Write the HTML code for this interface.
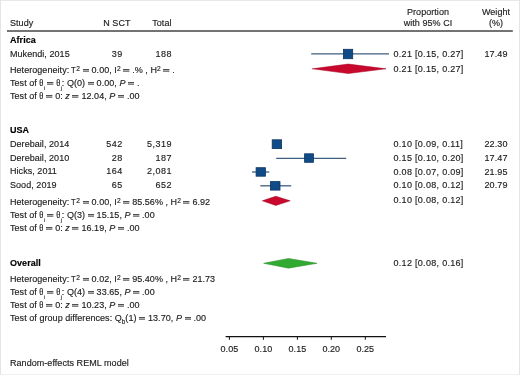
<!DOCTYPE html>
<html><head><meta charset="utf-8"><style>
html,body{margin:0;padding:0;background:#fff;}
#c{position:relative;width:520px;height:375px;overflow:hidden;background:#fff;will-change:transform;}
#c > svg{position:absolute;left:0;top:0;}
.t{position:absolute;font-family:"Liberation Sans",sans-serif;font-size:9.0px;line-height:9.0px;color:#222;white-space:pre;letter-spacing:0.05px;-webkit-text-stroke:0.15px #222;}
.t.b{font-weight:bold;color:#000;-webkit-text-stroke:0.15px #000;}
.t i{font-style:italic;}
.t.ci{letter-spacing:0.3px;}
.t.num{letter-spacing:0.5px;}
.t.w{letter-spacing:0.15px;}
.sup{font-size:6.6px;vertical-align:2.0px;line-height:0;}
.tau{display:inline-block;font-size:9.6px;line-height:0;transform:scaleX(0.8);transform-origin:0 0;margin-left:-1.0px;margin-right:-0.4px;}
.sub{font-size:5px;vertical-align:-3.6px;line-height:0;}
.subb{font-size:6.3px;vertical-align:-2.9px;line-height:0;}
.th{font-family:"Liberation Serif",serif;font-size:9.6px;margin-left:-0.4px;display:inline-block;line-height:0;transform:scaleX(0.88);}
.eq{display:inline-block;vertical-align:1px;fill:#333;}
</style></head><body>
<div id="c">
<svg width="520" height="375" viewBox="0 0 520 375">
<rect x="0" y="0" width="520" height="375" fill="#fff"/>
<rect x="0" y="0" width="520" height="1" fill="#e8e8e8"/>
<rect x="0" y="374" width="520" height="1" fill="#efefef"/>
<rect x="0" y="0" width="1" height="375" fill="#e4e4e4"/>
<rect x="519" y="0" width="1" height="375" fill="#e4e4e4"/>
<line x1="7" y1="31.1" x2="512.8" y2="31.1" stroke="#444" stroke-width="1.5"/>
<line x1="311.2" y1="53.9" x2="389" y2="53.9" stroke="#405f80" stroke-width="1.3"/>
<rect x="343.50" y="49.30" width="9.20" height="9.40" fill="#114b87" stroke="#0a3461" stroke-width="0.8"/>
<polygon points="312.2,68.8 348.3,64.05 386.0,68.8 348.3,73.55" fill="#c8092d" stroke="#a3001f" stroke-width="0.5" stroke-linejoin="miter" stroke-miterlimit="20"/>
<line x1="276.2" y1="158.3" x2="346.2" y2="158.3" stroke="#405f80" stroke-width="1.3"/>
<line x1="252" y1="172" x2="269.3" y2="172" stroke="#405f80" stroke-width="1.3"/>
<line x1="260.3" y1="185.8" x2="291.2" y2="185.8" stroke="#405f80" stroke-width="1.3"/>
<rect x="272.20" y="139.80" width="9.40" height="8.80" fill="#114b87" stroke="#0a3461" stroke-width="0.8"/>
<rect x="304.60" y="153.80" width="8.80" height="8.50" fill="#114b87" stroke="#0a3461" stroke-width="0.8"/>
<rect x="256.10" y="167.70" width="9.30" height="8.50" fill="#114b87" stroke="#0a3461" stroke-width="0.8"/>
<rect x="270.40" y="181.60" width="9.60" height="8.50" fill="#114b87" stroke="#0a3461" stroke-width="0.8"/>
<polygon points="262.3,200.8 275.8,196.25 290.2,200.8 275.8,205.45" fill="#c8092d" stroke="#a3001f" stroke-width="0.5" stroke-linejoin="miter" stroke-miterlimit="20"/>
<polygon points="263.6,263.3 288.5,258.45 317.09999999999997,263.3 288.5,268.15" fill="#32aa32" stroke="#258a25" stroke-width="0.5" stroke-linejoin="miter" stroke-miterlimit="20"/>
<line x1="225.6" y1="336.7" x2="386" y2="336.7" stroke="#111" stroke-width="1.3"/>
<line x1="229.4" y1="336.7" x2="229.4" y2="339.8" stroke="#111" stroke-width="1"/>
<line x1="263.4" y1="336.7" x2="263.4" y2="339.8" stroke="#111" stroke-width="1"/>
<line x1="297.4" y1="336.7" x2="297.4" y2="339.8" stroke="#111" stroke-width="1"/>
<line x1="331.3" y1="336.7" x2="331.3" y2="339.8" stroke="#111" stroke-width="1"/>
<line x1="365.3" y1="336.7" x2="365.3" y2="339.8" stroke="#111" stroke-width="1"/>
</svg>
<div class="t" style="left:428.00px;top:8.00px;transform:translateX(-50%)">Proportion</div>
<div class="t" style="left:428.00px;top:19.00px;transform:translateX(-50%)">with 95% CI</div>
<div class="t" style="left:496.00px;top:8.00px;transform:translateX(-50%)">Weight</div>
<div class="t" style="left:496.00px;top:19.00px;transform:translateX(-50%)">(%)</div>
<div class="t" style="left:10.00px;top:19.00px">Study</div>
<div class="t" style="right:389.50px;top:19.00px">N SCT</div>
<div class="t" style="right:348.50px;top:19.00px">Total</div>
<div class="t b" style="left:10.00px;top:36.00px">Africa</div>
<div class="t" style="left:10.00px;top:50.00px">Mukendi, 2015</div>
<div class="t num" style="right:397.30px;top:50.00px">39</div>
<div class="t num" style="right:347.90px;top:50.00px">188</div>
<div class="t ci" style="left:393.50px;top:50.00px">0.21 [0.15, 0.27]</div>
<div class="t w" style="right:12.35px;top:50.00px">17.49</div>
<div class="t" style="left:10.00px;top:66.00px">Heterogeneity: <span class="tau">T</span><span class="sup">2</span> <svg class="eq" width="6.4" height="4" viewBox="0 0 6.4 4"><rect x="0" y="1.0" width="6.4" height="0.85"/><rect x="0" y="2.6" width="6.4" height="1.0"/></svg> 0.00, I<span class="sup">2</span> <svg class="eq" width="6.4" height="4" viewBox="0 0 6.4 4"><rect x="0" y="1.0" width="6.4" height="0.85"/><rect x="0" y="2.6" width="6.4" height="1.0"/></svg> .% , H<span class="sup">2</span> <svg class="eq" width="6.4" height="4" viewBox="0 0 6.4 4"><rect x="0" y="1.0" width="6.4" height="0.85"/><rect x="0" y="2.6" width="6.4" height="1.0"/></svg> .</div>
<div class="t ci" style="left:393.50px;top:65.00px">0.21 [0.15, 0.27]</div>
<div class="t" style="left:10.00px;top:79.00px">Test of <span class="th">θ</span><span class="sub">i</span> <svg class="eq" width="6.4" height="4" viewBox="0 0 6.4 4"><rect x="0" y="1.0" width="6.4" height="0.85"/><rect x="0" y="2.6" width="6.4" height="1.0"/></svg> <span class="th">θ</span><span class="sub">j</span>: Q(0) <svg class="eq" width="6.4" height="4" viewBox="0 0 6.4 4"><rect x="0" y="1.0" width="6.4" height="0.85"/><rect x="0" y="2.6" width="6.4" height="1.0"/></svg> 0.00, <i>P</i> <svg class="eq" width="6.4" height="4" viewBox="0 0 6.4 4"><rect x="0" y="1.0" width="6.4" height="0.85"/><rect x="0" y="2.6" width="6.4" height="1.0"/></svg> .</div>
<div class="t" style="left:10.00px;top:92.00px">Test of <span class="th">θ</span> <svg class="eq" width="6.4" height="4" viewBox="0 0 6.4 4"><rect x="0" y="1.0" width="6.4" height="0.85"/><rect x="0" y="2.6" width="6.4" height="1.0"/></svg> 0: <i>z</i> <svg class="eq" width="6.4" height="4" viewBox="0 0 6.4 4"><rect x="0" y="1.0" width="6.4" height="0.85"/><rect x="0" y="2.6" width="6.4" height="1.0"/></svg> 12.04, <i>P</i> <svg class="eq" width="6.4" height="4" viewBox="0 0 6.4 4"><rect x="0" y="1.0" width="6.4" height="0.85"/><rect x="0" y="2.6" width="6.4" height="1.0"/></svg> .00</div>
<div class="t b" style="left:10.00px;top:126.00px">USA</div>
<div class="t" style="left:10.00px;top:140.00px">Derebail, 2014</div>
<div class="t num" style="right:397.30px;top:140.00px">542</div>
<div class="t num" style="right:347.90px;top:140.00px">5,319</div>
<div class="t ci" style="left:393.50px;top:140.00px">0.10 [0.09, 0.11]</div>
<div class="t w" style="right:12.35px;top:140.00px">22.30</div>
<div class="t" style="left:10.00px;top:154.00px">Derebail, 2010</div>
<div class="t num" style="right:397.30px;top:154.00px">28</div>
<div class="t num" style="right:347.90px;top:154.00px">187</div>
<div class="t ci" style="left:393.50px;top:154.00px">0.15 [0.10, 0.20]</div>
<div class="t w" style="right:12.35px;top:154.00px">17.47</div>
<div class="t" style="left:10.00px;top:167.00px">Hicks, 2011</div>
<div class="t num" style="right:397.30px;top:167.00px">164</div>
<div class="t num" style="right:347.90px;top:167.00px">2,081</div>
<div class="t ci" style="left:393.50px;top:168.00px">0.08 [0.07, 0.09]</div>
<div class="t w" style="right:12.35px;top:168.00px">21.95</div>
<div class="t" style="left:10.00px;top:181.00px">Sood, 2019</div>
<div class="t num" style="right:397.30px;top:181.00px">65</div>
<div class="t num" style="right:347.90px;top:181.00px">652</div>
<div class="t ci" style="left:393.50px;top:181.00px">0.10 [0.08, 0.12]</div>
<div class="t w" style="right:12.35px;top:181.00px">20.79</div>
<div class="t" style="left:10.00px;top:198.00px">Heterogeneity: <span class="tau">T</span><span class="sup">2</span> <svg class="eq" width="6.4" height="4" viewBox="0 0 6.4 4"><rect x="0" y="1.0" width="6.4" height="0.85"/><rect x="0" y="2.6" width="6.4" height="1.0"/></svg> 0.00, I<span class="sup">2</span> <svg class="eq" width="6.4" height="4" viewBox="0 0 6.4 4"><rect x="0" y="1.0" width="6.4" height="0.85"/><rect x="0" y="2.6" width="6.4" height="1.0"/></svg> 85.56% , H<span class="sup">2</span> <svg class="eq" width="6.4" height="4" viewBox="0 0 6.4 4"><rect x="0" y="1.0" width="6.4" height="0.85"/><rect x="0" y="2.6" width="6.4" height="1.0"/></svg> 6.92</div>
<div class="t ci" style="left:393.50px;top:196.00px">0.10 [0.08, 0.12]</div>
<div class="t" style="left:10.00px;top:211.00px">Test of <span class="th">θ</span><span class="sub">i</span> <svg class="eq" width="6.4" height="4" viewBox="0 0 6.4 4"><rect x="0" y="1.0" width="6.4" height="0.85"/><rect x="0" y="2.6" width="6.4" height="1.0"/></svg> <span class="th">θ</span><span class="sub">j</span>: Q(3) <svg class="eq" width="6.4" height="4" viewBox="0 0 6.4 4"><rect x="0" y="1.0" width="6.4" height="0.85"/><rect x="0" y="2.6" width="6.4" height="1.0"/></svg> 15.15, <i>P</i> <svg class="eq" width="6.4" height="4" viewBox="0 0 6.4 4"><rect x="0" y="1.0" width="6.4" height="0.85"/><rect x="0" y="2.6" width="6.4" height="1.0"/></svg> .00</div>
<div class="t" style="left:10.00px;top:224.00px">Test of <span class="th">θ</span> <svg class="eq" width="6.4" height="4" viewBox="0 0 6.4 4"><rect x="0" y="1.0" width="6.4" height="0.85"/><rect x="0" y="2.6" width="6.4" height="1.0"/></svg> 0: <i>z</i> <svg class="eq" width="6.4" height="4" viewBox="0 0 6.4 4"><rect x="0" y="1.0" width="6.4" height="0.85"/><rect x="0" y="2.6" width="6.4" height="1.0"/></svg> 16.19, <i>P</i> <svg class="eq" width="6.4" height="4" viewBox="0 0 6.4 4"><rect x="0" y="1.0" width="6.4" height="0.85"/><rect x="0" y="2.6" width="6.4" height="1.0"/></svg> .00</div>
<div class="t b" style="left:10.00px;top:259.00px">Overall</div>
<div class="t ci" style="left:393.50px;top:259.00px">0.12 [0.08, 0.16]</div>
<div class="t" style="left:10.00px;top:275.00px">Heterogeneity: <span class="tau">T</span><span class="sup">2</span> <svg class="eq" width="6.4" height="4" viewBox="0 0 6.4 4"><rect x="0" y="1.0" width="6.4" height="0.85"/><rect x="0" y="2.6" width="6.4" height="1.0"/></svg> 0.02, I<span class="sup">2</span> <svg class="eq" width="6.4" height="4" viewBox="0 0 6.4 4"><rect x="0" y="1.0" width="6.4" height="0.85"/><rect x="0" y="2.6" width="6.4" height="1.0"/></svg> 95.40% , H<span class="sup">2</span> <svg class="eq" width="6.4" height="4" viewBox="0 0 6.4 4"><rect x="0" y="1.0" width="6.4" height="0.85"/><rect x="0" y="2.6" width="6.4" height="1.0"/></svg> 21.73</div>
<div class="t" style="left:10.00px;top:288.00px">Test of <span class="th">θ</span><span class="sub">i</span> <svg class="eq" width="6.4" height="4" viewBox="0 0 6.4 4"><rect x="0" y="1.0" width="6.4" height="0.85"/><rect x="0" y="2.6" width="6.4" height="1.0"/></svg> <span class="th">θ</span><span class="sub">j</span>: Q(4) <svg class="eq" width="6.4" height="4" viewBox="0 0 6.4 4"><rect x="0" y="1.0" width="6.4" height="0.85"/><rect x="0" y="2.6" width="6.4" height="1.0"/></svg> 33.65, <i>P</i> <svg class="eq" width="6.4" height="4" viewBox="0 0 6.4 4"><rect x="0" y="1.0" width="6.4" height="0.85"/><rect x="0" y="2.6" width="6.4" height="1.0"/></svg> .00</div>
<div class="t" style="left:10.00px;top:301.00px">Test of <span class="th">θ</span> <svg class="eq" width="6.4" height="4" viewBox="0 0 6.4 4"><rect x="0" y="1.0" width="6.4" height="0.85"/><rect x="0" y="2.6" width="6.4" height="1.0"/></svg> 0: <i>z</i> <svg class="eq" width="6.4" height="4" viewBox="0 0 6.4 4"><rect x="0" y="1.0" width="6.4" height="0.85"/><rect x="0" y="2.6" width="6.4" height="1.0"/></svg> 10.23, <i>P</i> <svg class="eq" width="6.4" height="4" viewBox="0 0 6.4 4"><rect x="0" y="1.0" width="6.4" height="0.85"/><rect x="0" y="2.6" width="6.4" height="1.0"/></svg> .00</div>
<div class="t" style="left:10.00px;top:314.00px">Test of group differences: Q<span class="subb">b</span>(1) <svg class="eq" width="6.4" height="4" viewBox="0 0 6.4 4"><rect x="0" y="1.0" width="6.4" height="0.85"/><rect x="0" y="2.6" width="6.4" height="1.0"/></svg> 13.70, <i>P</i> <svg class="eq" width="6.4" height="4" viewBox="0 0 6.4 4"><rect x="0" y="1.0" width="6.4" height="0.85"/><rect x="0" y="2.6" width="6.4" height="1.0"/></svg> .00</div>
<div class="t" style="left:229.40px;top:345.00px;transform:translateX(-50%)">0.05</div>
<div class="t" style="left:263.40px;top:345.00px;transform:translateX(-50%)">0.10</div>
<div class="t" style="left:297.40px;top:345.00px;transform:translateX(-50%)">0.15</div>
<div class="t" style="left:331.30px;top:345.00px;transform:translateX(-50%)">0.20</div>
<div class="t" style="left:365.30px;top:345.00px;transform:translateX(-50%)">0.25</div>
<div class="t" style="left:10.00px;top:359.00px">Random-effects REML model</div>
</div>
</body></html>
